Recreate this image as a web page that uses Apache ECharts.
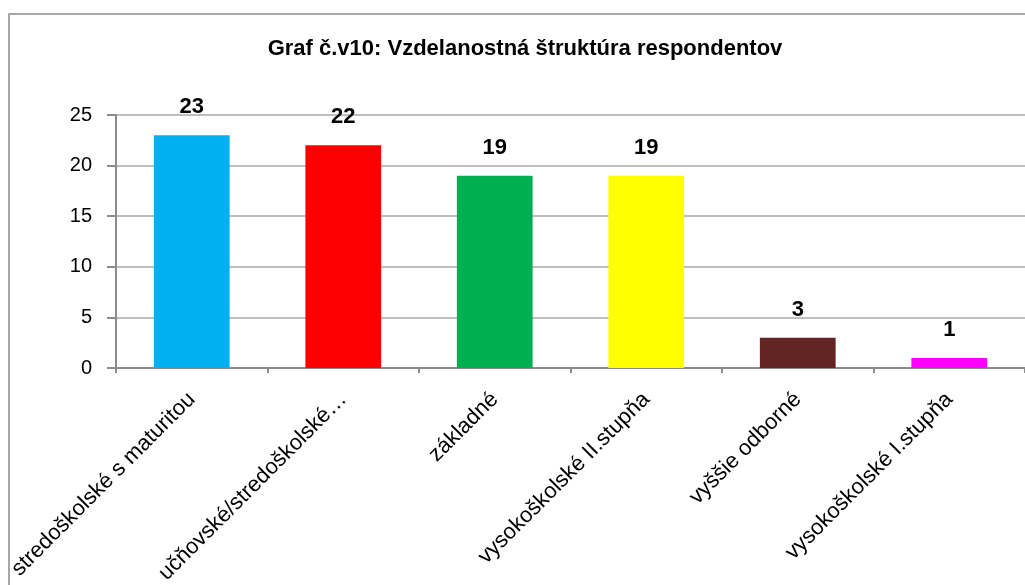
<!DOCTYPE html>
<html>
<head>
<meta charset="utf-8">
<script src="https://cdn.jsdelivr.net/npm/echarts@6/dist/echarts.min.js"></script>
<style>
  html, body { margin: 0; padding: 0; background: #fff; }
  #chart { width: 1025px; height: 585px; }
</style>
</head>
<body>
<div id="chart"></div>
<script>
// kategórie a hodnoty z grafu
const categories = [
  'stredoškolské s maturitou',
  'učňovské/stredoškolské…',
  'základné',
  'vysokoškolské II.stupňa',
  'vyššie odborné',
  'vysokoškolské I.stupňa'
];
const values = [23, 22, 19, 19, 3, 1];
const barColors = ['#00B0F0', '#FF0000', '#00B050', '#FFFF00', '#632523', '#FF00FF'];
const yTicks = [0, 5, 10, 15, 20, 25];

const font = '"Liberation Sans", Arial, sans-serif';

const myChart = echarts.init(document.getElementById('chart'));

myChart.setOption({
  animation: false,
  textStyle: { fontFamily: font },
  title: {
    text: 'Graf č.v10: Vzdelanostná štruktúra respondentov',
    left: 520,
    top: 33,
    textAlign: 'center',
    textStyle: { fontSize: 22, fontWeight: 'bold', color: '#000', fontFamily: font }
  },
  // rámik okolo grafu
  graphic: [{
    type: 'rect',
    shape: { x: 9, y: 14, width: 1200, height: 700 },
    style: { fill: 'none', stroke: '#8c8c8c', lineWidth: 1.5 },
    silent: true
  }],
  grid: {
    left: 116,
    right: 0,
    top: 115,
    bottom: 217,
    containLabel: false,
    outerBoundsMode: 'none'
  },
  xAxis: {
    type: 'category',
    data: categories,
    axisLine: { lineStyle: { color: '#8c8c8c', width: 2 } },
    axisTick: { show: true, length: 5, interval: 0, lineStyle: { color: '#8c8c8c', width: 2 } },
    axisLabel: {
      interval: 0,
      rotate: 45,
      margin: 28,
      fontSize: 22,
      color: '#000',
      fontFamily: font
    }
  },
  yAxis: {
    type: 'value',
    min: yTicks[0],
    max: yTicks[yTicks.length - 1],
    interval: 5,
    axisLine: { show: true, lineStyle: { color: '#8c8c8c', width: 2 } },
    axisTick: { show: true, length: 9, lineStyle: { color: '#8c8c8c', width: 2 } },
    axisLabel: { margin: 24, fontSize: 20, color: '#000', fontFamily: font },
    splitLine: { show: true, lineStyle: { color: '#a8a8a8', width: 1.5 } }
  },
  series: [{
    type: 'bar',
    data: values.map((v, i) => ({ value: v, itemStyle: { color: barColors[i] } })),
    barCategoryGap: '50%',
    label: {
      show: true,
      position: 'top',
      distance: 17,
      fontSize: 22,
      fontWeight: 'bold',
      color: '#000',
      fontFamily: font
    }
  }]
});
</script>
</body>
</html>
